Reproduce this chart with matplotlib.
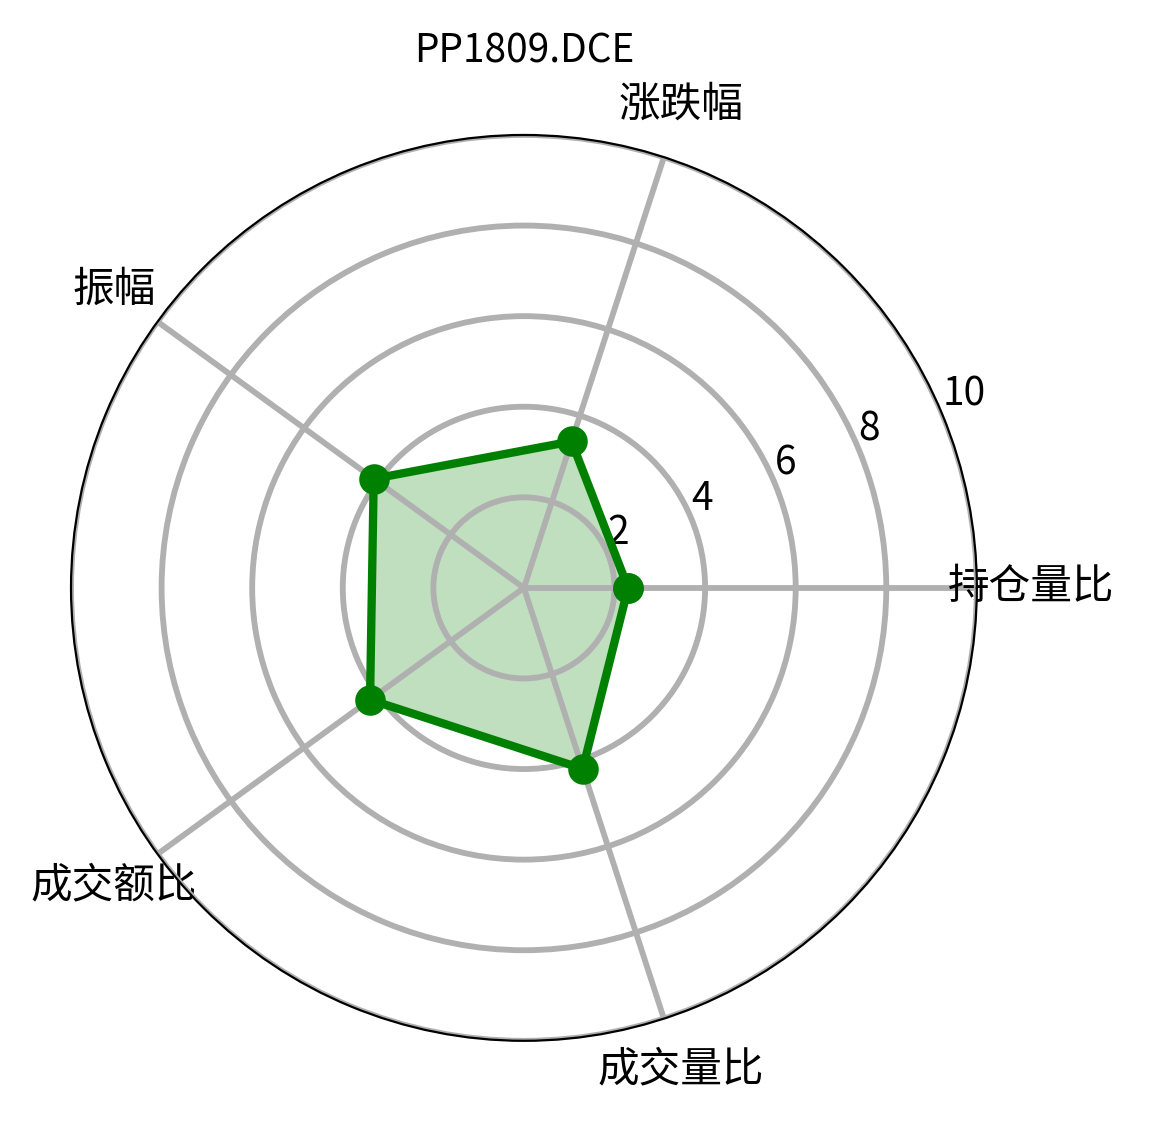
import numpy as np
import matplotlib
matplotlib.use("Agg")
import matplotlib.pyplot as plt

plt.rcParams['font.family'] = ['Noto Sans CJK SC', 'DejaVu Sans']
plt.rcParams['axes.unicode_minus'] = False

# radar chart data
labels = ['持仓量比', '涨跌幅', '振幅', '成交额比', '成交量比']
scores = [2.3, 3.4, 4.1, 4.2, 4.2]
title = 'PP1809.DCE'

angles = np.linspace(0, 2 * np.pi, len(labels), endpoint=False)
# close the polygon
angles_c = np.concatenate((angles, [angles[0]]))
scores_c = np.concatenate((scores, [scores[0]]))

fig = plt.figure(figsize=(5.755, 5.615), dpi=200)
ax = fig.add_axes([0.0617, 0.073, 0.787, 0.807], polar=True)

ax.plot(angles_c, scores_c, 'o-', color='green', linewidth=3, markersize=10)
ax.fill(angles_c, scores_c, color='green', alpha=0.25)

ax.set_thetagrids(angles * 180 / np.pi, labels, fontsize=15)
ax.tick_params(axis='x', pad=9)
ax.set_rgrids([2, 4, 6, 8, 10], fontsize=14)
ax.set_ylim(0, 10)
ax.grid(True, color='#b0b0b0', linewidth=2.1)
ax.set_title(title, fontsize=14, pad=8)

fig.savefig('out.png', dpi=200)
